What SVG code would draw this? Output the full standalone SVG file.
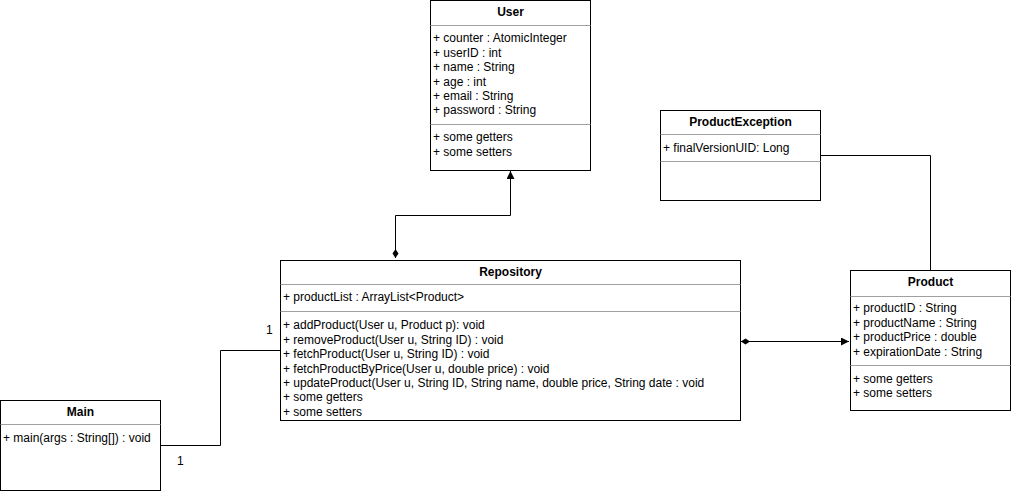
<svg xmlns="http://www.w3.org/2000/svg" width="1011" height="491" viewBox="0 0 1011 491">
<defs>
<style>
.box{fill:#fff;stroke:#000;stroke-width:1}
.div{stroke:#a0a0a0;stroke-width:1}
.t{font-family:"Liberation Sans",Arial,sans-serif;font-size:12px;fill:#000}
.b{font-weight:bold;text-anchor:middle}
.c{fill:none;stroke:#000;stroke-width:1}
</style>
<marker id="arr" viewBox="0 0 10 10" refX="10" refY="5" markerWidth="8" markerHeight="8" markerUnits="userSpaceOnUse" orient="auto"><path d="M0,0 L10,5 L0,10 Z" fill="#000"/></marker>
<marker id="dia" viewBox="0 0 12 8" refX="0" refY="4" markerWidth="9" markerHeight="8" markerUnits="userSpaceOnUse" orient="auto"><path d="M0,4 L6,0 L12,4 L6,8 Z" fill="#000"/></marker>
</defs>
<rect width="1011" height="491" fill="#fff"/>
<g id="connectors">
<polyline class="c" points="395.5,258 395.5,215.5 510.5,215.5 510.5,171" marker-start="url(#dia)" marker-end="url(#arr)"/>
<polyline class="c" points="741,341.5 849,341.5" marker-start="url(#dia)" marker-end="url(#arr)"/>
<polyline class="c" points="820,155.5 930.5,155.5 930.5,270"/>
<polyline class="c" points="160,445.5 220.5,445.5 220.5,350.5 280,350.5"/>
<text class="t" x="266" y="334">1</text>
<text class="t" x="177" y="465">1</text>
</g>
<g id="User">
<rect class="box" x="430.5" y="0.5" width="160" height="170"/>
<text class="t b" x="510.5" y="15.5">User</text>
<line class="div" x1="430.5" y1="25.5" x2="590.5" y2="25.5"/>
<text class="t" x="433" y="42.3">+ counter : AtomicInteger</text>
<text class="t" x="433" y="56.7">+ userID : int</text>
<text class="t" x="433" y="71.1">+ name : String</text>
<text class="t" x="433" y="85.5">+ age : int</text>
<text class="t" x="433" y="99.9">+ email : String</text>
<text class="t" x="433" y="114.3">+ password : String</text>
<line class="div" x1="430.5" y1="124.5" x2="590.5" y2="124.5"/>
<text class="t" x="433" y="141.3">+ some getters</text>
<text class="t" x="433" y="155.7">+ some setters</text>
</g>
<g id="ProductException">
<rect class="box" x="660.5" y="110.5" width="160" height="90"/>
<text class="t b" x="740.5" y="125.5">ProductException</text>
<line class="div" x1="660.5" y1="134.5" x2="820.5" y2="134.5"/>
<text class="t" x="663" y="151.8">+ finalVersionUID: Long</text>
<line class="div" x1="660.5" y1="161.5" x2="820.5" y2="161.5"/>
</g>
<g id="Product">
<rect class="box" x="850.5" y="270.5" width="160" height="140"/>
<text class="t b" x="930.5" y="285.5">Product</text>
<line class="div" x1="850.5" y1="296.5" x2="1010.5" y2="296.5"/>
<text class="t" x="853" y="312.1">+ productID : String</text>
<text class="t" x="853" y="326.7">+ productName : String</text>
<text class="t" x="853" y="341.1">+ productPrice : double</text>
<text class="t" x="853" y="355.9">+ expirationDate : String</text>
<line class="div" x1="850.5" y1="365.5" x2="1010.5" y2="365.5"/>
<text class="t" x="853" y="382.7">+ some getters</text>
<text class="t" x="853" y="396.7">+ some setters</text>
</g>
<g id="Repository">
<rect class="box" x="280.5" y="260.5" width="460" height="160"/>
<text class="t b" x="510.5" y="275.5">Repository</text>
<line class="div" x1="280.5" y1="284.5" x2="740.5" y2="284.5"/>
<text class="t" x="283" y="301.3">+ productList : ArrayList&lt;Product&gt;</text>
<line class="div" x1="280.5" y1="311.5" x2="740.5" y2="311.5"/>
<text class="t" x="283" y="329.3">+ addProduct(User u, Product p): void</text>
<text class="t" x="283" y="343.8">+ removeProduct(User u, String ID) : void</text>
<text class="t" x="283" y="358.3">+ fetchProduct(User u, String ID) : void</text>
<text class="t" x="283" y="372.8">+ fetchProductByPrice(User u, double price) : void</text>
<text class="t" x="283" y="386.8">+ updateProduct(User u, String ID, String name, double price, String date : void</text>
<text class="t" x="283" y="401.3">+ some getters</text>
<text class="t" x="283" y="415.8">+ some setters</text>
</g>
<g id="Main">
<rect class="box" x="0.5" y="400.5" width="160" height="90"/>
<text class="t b" x="80.5" y="415.5">Main</text>
<line class="div" x1="0.5" y1="424.5" x2="160.5" y2="424.5"/>
<text class="t" x="3" y="441.8">+ main(args : String[]) : void</text>
</g>
</svg>
